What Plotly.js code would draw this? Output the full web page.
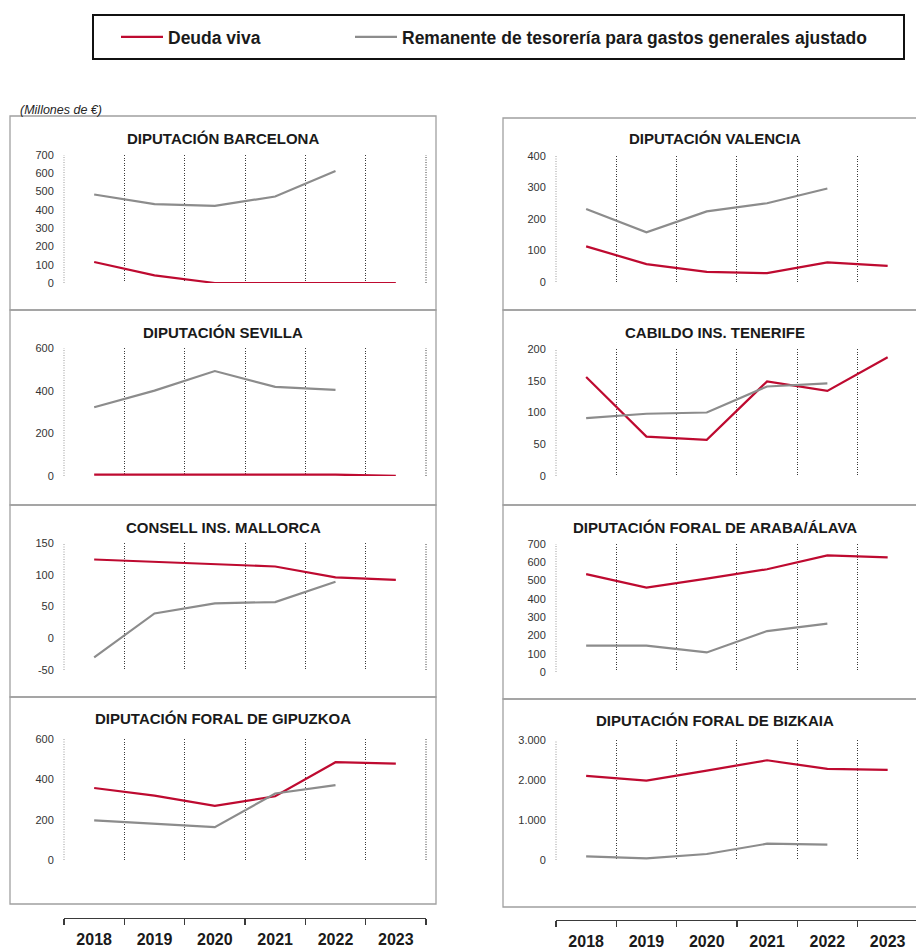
<!DOCTYPE html>
<html>
<head>
<meta charset="utf-8">
<script src="https://cdn.plot.ly/plotly-3.0.1.min.js"></script>
<style>
  html, body { margin: 0; padding: 0; background: #ffffff; }
  #chart { width: 916px; height: 950px; }
</style>
</head>
<body>
<div id="chart"></div>
<script>
// Years on the category axis
const years = ['2018', '2019', '2020', '2021', '2022', '2023'];

// Deuda viva / Remanente de tesorería (millones de €) per entity
const deudaBarcelona = [115, 42, 0, 0, 0, 0];
const remanenteBarcelona = [484, 431, 422, 473, 612, null];

const deudaValencia = [113, 57, 32, 28, 62, 51];
const remanenteValencia = [232, 158, 224, 250, 297, null];

const deudaSevilla = [6, 6, 6, 6, 6, 1];
const remanenteSevilla = [322, 400, 492, 418, 404, null];

const deudaTenerife = [156, 62, 57, 149, 134, 187];
const remanenteTenerife = [91, 98, 100, 141, 146, null];

const deudaMallorca = [124, 120, 117, 113, 96, 92];
const remanenteMallorca = [-30, 39, 55, 57, 89, null];

const deudaAraba = [535, 462, 511, 562, 638, 627];
const remanenteAraba = [144, 144, 107, 224, 265, null];

const deudaGipuzkoa = [357, 319, 268, 316, 485, 478];
const remanenteGipuzkoa = [196, 179, 163, 330, 371, null];

const deudaBizkaia = [2103, 1986, 2235, 2493, 2277, 2252];
const remanenteBizkaia = [91, 42, 150, 407, 382, null];

// Value-axis ticks per panel
const ticksBarcelona = [0, 100, 200, 300, 400, 500, 600, 700];
const ticksValencia = [0, 100, 200, 300, 400];
const ticksSevilla = [0, 200, 400, 600];
const ticksTenerife = [0, 50, 100, 150, 200];
const ticksMallorca = [-50, 0, 50, 100, 150];
const ticksAraba = [0, 100, 200, 300, 400, 500, 600, 700];
const ticksGipuzkoa = [0, 200, 400, 600];
const ticksBizkaia = [0, 1000, 2000, 3000];

const seriesNames = ['Deuda viva', 'Remanente de tesorería para gastos generales ajustado'];

// ---- styling / geometry ----
const W = 916, H = 950;
const FONT = 'Liberation Sans, Arial, sans-serif';
const RED = '#BE0A30';
const GREY = '#8C8C8C';
const TXT = '#1a1a1a';
const GRID = '#3a3a3a';
const DOTS = '1px,1.5px';

// Right column runs past the page edge, so its last boundary is cut off
const columns = [
  { x0: 64, x1: 426, range: [-0.5, 5.5], box: [10, 436], titleX: 223, rightEdge: true },
  { x0: 556, x1: 916, range: [-0.5, 5.47], box: [503, 935], titleX: 715, rightEdge: false }
];

const panels = [
  { title: 'DIPUTACIÓN BARCELONA', deuda: deudaBarcelona, rem: remanenteBarcelona, ticks: ticksBarcelona, col: 0, top: 155, bottom: 283, titleY: 138, box: [116, 310] },
  { title: 'DIPUTACIÓN SEVILLA', deuda: deudaSevilla, rem: remanenteSevilla, ticks: ticksSevilla, col: 0, top: 348, bottom: 476, titleY: 332, box: [310, 505] },
  { title: 'CONSELL INS. MALLORCA', deuda: deudaMallorca, rem: remanenteMallorca, ticks: ticksMallorca, col: 0, top: 543, bottom: 670, titleY: 527, box: [505, 697] },
  { title: 'DIPUTACIÓN FORAL DE GIPUZKOA', deuda: deudaGipuzkoa, rem: remanenteGipuzkoa, ticks: ticksGipuzkoa, col: 0, top: 739, bottom: 860, titleY: 718, box: [697, 904], axisY: 918 },
  { title: 'DIPUTACIÓN VALENCIA', deuda: deudaValencia, rem: remanenteValencia, ticks: ticksValencia, col: 1, top: 156, bottom: 282, titleY: 139, box: [118, 310] },
  { title: 'CABILDO INS. TENERIFE', deuda: deudaTenerife, rem: remanenteTenerife, ticks: ticksTenerife, col: 1, top: 349, bottom: 476, titleY: 332, box: [310, 505] },
  { title: 'DIPUTACIÓN FORAL DE ARABA/ÁLAVA', deuda: deudaAraba, rem: remanenteAraba, ticks: ticksAraba, col: 1, top: 544, bottom: 672, titleY: 527, box: [505, 699] },
  { title: 'DIPUTACIÓN FORAL DE BIZKAIA', deuda: deudaBizkaia, rem: remanenteBizkaia, ticks: ticksBizkaia, col: 1, top: 740, bottom: 860, titleY: 720, box: [699, 907], axisY: 920 }
];

const px = v => v / W;
const py = v => 1 - v / H;
// Spanish number style: thousands with a dot
const fmt = v => String(v).replace(/\B(?=(\d{3})+(?!\d))/g, '.');

const legendFont = { family: FONT, size: 17.5, weight: 'bold', color: TXT };
const legendBase = {
  orientation: 'h', xanchor: 'left', y: py(37), yanchor: 'middle',
  itemwidth: 42, bgcolor: 'rgba(0,0,0,0)', borderwidth: 0, font: legendFont
};

const traces = [];
const layout = {
  width: W, height: H,
  margin: { l: 0, r: 0, t: 0, b: 0 },
  paper_bgcolor: '#ffffff',
  plot_bgcolor: 'rgba(0,0,0,0)',
  font: { family: FONT, color: TXT },
  showlegend: true,
  legend: Object.assign({ x: px(116) }, legendBase),
  legend2: Object.assign({ x: px(350) }, legendBase),
  shapes: [],
  annotations: []
};

// Legend frame
layout.shapes.push({
  type: 'rect', xref: 'paper', yref: 'paper',
  x0: px(93), x1: px(904), y0: py(15), y1: py(59),
  line: { color: '#111111', width: 2 }, layer: 'below'
});

layout.annotations.push({
  xref: 'paper', yref: 'paper', x: px(18), y: py(110),
  xanchor: 'left', yanchor: 'middle', showarrow: false,
  text: '(Millones de €)',
  font: { family: FONT, size: 12.5, style: 'italic', color: '#262626' }
});

panels.forEach((p, i) => {
  const n = i + 1;
  const xid = n === 1 ? 'x' : 'x' + n;
  const yid = n === 1 ? 'y' : 'y' + n;
  const c = columns[p.col];

  traces.push({
    type: 'scatter', mode: 'lines', name: seriesNames[0],
    x: years, y: p.deuda, xaxis: xid, yaxis: yid,
    line: { color: RED, width: 2.2 },
    showlegend: i === 0, legend: 'legend',
    cliponaxis: false, hoverinfo: 'skip'
  });
  traces.push({
    type: 'scatter', mode: 'lines', name: seriesNames[1],
    x: years, y: p.rem, xaxis: xid, yaxis: yid,
    line: { color: GREY, width: 2.2 },
    showlegend: i === 0, legend: 'legend2',
    cliponaxis: false, hoverinfo: 'skip'
  });

  const isBottom = p.axisY !== undefined;
  const xa = {
    type: 'category',
    domain: [px(c.x0), px(c.x1)],
    range: c.range,
    anchor: isBottom ? 'free' : yid,
    tickson: 'boundaries',
    showgrid: true,
    gridcolor: GRID,
    gridwidth: 1,
    griddash: DOTS,
    zeroline: false,
    fixedrange: true
  };
  if (isBottom) {
    Object.assign(xa, {
      position: py(p.axisY),
      showline: true, linecolor: GRID, linewidth: 1.4,
      ticks: 'outside', ticklen: 6, tickwidth: 1.2, tickcolor: GRID,
      showticklabels: true, ticklabelstandoff: 6,
      tickfont: { family: FONT, size: 16, weight: 'bold', color: TXT }
    });
  } else {
    Object.assign(xa, { showline: false, ticks: '', showticklabels: false });
  }
  layout[n === 1 ? 'xaxis' : 'xaxis' + n] = xa;

  layout[n === 1 ? 'yaxis' : 'yaxis' + n] = {
    domain: [py(p.bottom), py(p.top)],
    anchor: xid,
    range: [p.ticks[0], p.ticks[p.ticks.length - 1]],
    tickmode: 'array',
    tickvals: p.ticks,
    ticktext: p.ticks.map(fmt),
    showgrid: false, zeroline: false, showline: false,
    ticks: 'outside', ticklen: 7, tickcolor: 'rgba(0,0,0,0)',
    tickfont: { family: FONT, size: 11, color: '#333333' },
    fixedrange: true
  };

  // Dotted frame lines at the outer category boundaries (value axis side is lighter)
  layout.shapes.push({
    type: 'line', xref: xid + ' domain', yref: yid + ' domain',
    x0: 0, x1: 0, y0: 0, y1: 1,
    line: { color: '#9a9a9a', width: 1, dash: DOTS }
  });
  if (c.rightEdge) {
    layout.shapes.push({
      type: 'line', xref: xid + ' domain', yref: yid + ' domain',
      x0: 1, x1: 1, y0: 0, y1: 1,
      line: { color: GRID, width: 1, dash: DOTS }
    });
  }

  // Panel frame
  layout.shapes.push({
    type: 'rect', xref: 'paper', yref: 'paper',
    x0: px(c.box[0]), x1: px(c.box[1]), y0: py(p.box[1]), y1: py(p.box[0]),
    line: { color: '#a0a0a0', width: 1.3 }, layer: 'below'
  });

  // Panel title
  layout.annotations.push({
    xref: 'paper', yref: 'paper', x: px(c.titleX), y: py(p.titleY),
    xanchor: 'center', yanchor: 'middle', showarrow: false,
    text: p.title,
    font: { family: FONT, size: 15, weight: 'bold', color: TXT }
  });
});

Plotly.newPlot('chart', traces, layout, { staticPlot: true, displayModeBar: false });
</script>
</body>
</html>
